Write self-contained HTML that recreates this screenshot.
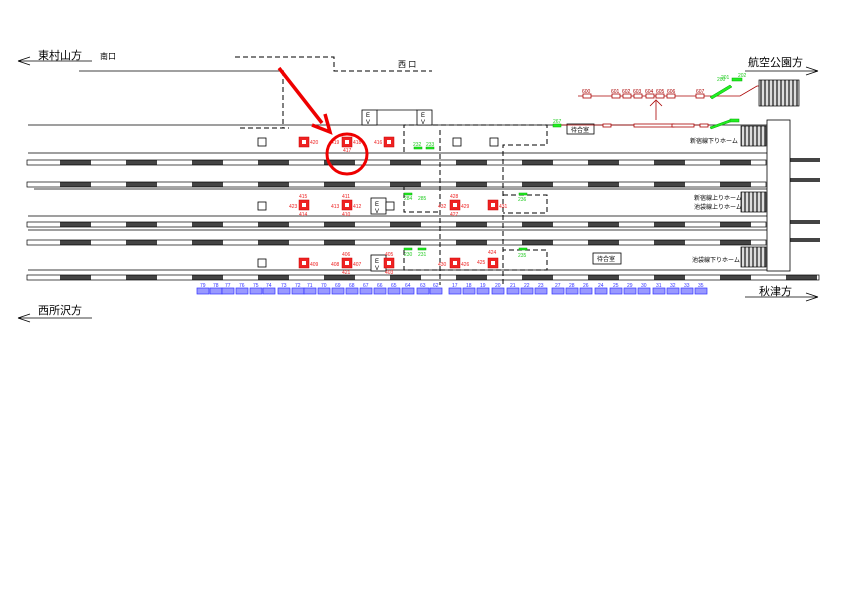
<!DOCTYPE html>
<html><head><meta charset="utf-8"><style>
html,body{margin:0;padding:0;background:#fff;}
svg{display:block;font-family:"Liberation Sans","Noto Sans CJK JP",sans-serif;}
</style></head><body>
<svg width="842" height="595" viewBox="0 0 842 595" xmlns="http://www.w3.org/2000/svg">
<defs>
<pattern id="trk" x="27" y="0" width="66" height="10" patternUnits="userSpaceOnUse">
<rect x="33" y="0" width="31" height="10" fill="#444"/>
</pattern>
<pattern id="stair" x="0" y="0" width="4" height="10" patternUnits="userSpaceOnUse">
<rect x="0" y="0" width="4" height="10" fill="#ddd"/><rect x="0" y="0" width="2" height="10" fill="#666"/>
</pattern>
</defs>
<g font-size="11" fill="#000">
<text x="38" y="59">東村山方</text>
<text x="100" y="59" font-size="8">南口</text>
<text x="398" y="67" font-size="8">西 口</text>
<text x="748" y="66">航空公園方</text>
<text x="759" y="295">秋津方</text>
<text x="38" y="314">西所沢方</text>
</g>
<g stroke="#000" stroke-width="0.8" fill="none">
<path d="M18,61 H92 M18,61 L30,57 M18,61 L30,65"/>
<path d="M745,71 H818 M818,71 L806,67 M818,71 L806,75"/>
<path d="M745,297 H818 M818,297 L806,293 M818,297 L806,301"/>
<path d="M18,318 H92 M18,318 L30,314 M18,318 L30,322"/>
<path d="M79,71 H284"/>
<path d="M28,125 H767 M28,153 H767 M28,216 H767 M28,270 H767 M34,189 H767 M28,230 H767" />
</g>
<g stroke="#000" stroke-width="1" fill="none" stroke-dasharray="5,3">
<path d="M235,57 H334 V71 H432"/>
<path d="M283,71 V128 M240,128 H289"/>
<path d="M404,152 V125 H547 V145 H503 V285"/>
<path d="M440,130 V285"/>
<path d="M404,185 V212 H440 M503,195 H547 V213 H503"/>
<path d="M404,250 V270 H547 V250 H503"/>
</g>
<g stroke="#000" stroke-width="0.8" fill="#fff" font-size="6">
<rect x="362" y="110" width="15" height="15"/><rect x="417" y="110" width="15" height="15"/>
<path d="M377,110 H417" fill="none"/>
<rect x="371" y="198" width="15" height="16"/><rect x="371" y="255" width="15" height="16"/>
<rect x="258" y="138" width="8" height="8"/><rect x="453" y="138" width="8" height="8"/><rect x="490" y="138" width="8" height="8"/>
<rect x="258" y="202" width="8" height="8"/><rect x="386" y="202" width="8" height="8"/><rect x="258" y="259" width="8" height="8"/>
<rect x="567" y="124" width="27" height="10"/><rect x="593" y="253" width="28" height="11"/>
</g>
<g font-size="6" fill="#000">
<text x="366" y="117">E</text><text x="366" y="124">V</text>
<text x="421" y="117">E</text><text x="421" y="124">V</text>
<text x="375" y="206">E</text><text x="375" y="213">V</text>
<text x="375" y="263">E</text><text x="375" y="270">V</text>
<text x="571" y="132">待合室</text><text x="597" y="261">待合室</text>
<text x="690" y="143">新宿線下りホーム</text>
<text x="694" y="200">新宿線上りホーム</text>
<text x="694" y="209">池袋線上りホーム</text>
<text x="692" y="262">池袋線下りホーム</text>
</g>
<g stroke="#000" stroke-width="0.7">
<rect x="27" y="160" width="739" height="5" fill="url(#trk)"/>
<rect x="27" y="182" width="739" height="5" fill="url(#trk)"/>
<rect x="27" y="222" width="739" height="5" fill="url(#trk)"/>
<rect x="27" y="240" width="739" height="5" fill="url(#trk)"/>
<rect x="27" y="275" width="792" height="5" fill="url(#trk)"/>
</g>
<g fill="#444">
<rect x="790" y="158" width="30" height="4"/><rect x="790" y="178" width="30" height="4"/>
<rect x="790" y="220" width="30" height="4"/><rect x="790" y="238" width="30" height="4"/>
</g>
<g stroke="#000" stroke-width="0.8" fill="none">
<rect x="767" y="120" width="23" height="151" fill="#fff"/>
<path d="M710,96 H740 L757,86 H790" stroke="#a00"/>
</g>
<g stroke="#000" stroke-width="0.7">
<rect x="759" y="80" width="40" height="26" fill="url(#stair)"/>
<rect x="741" y="126" width="25" height="20" fill="url(#stair)"/>
<rect x="741" y="192" width="25" height="20" fill="url(#stair)"/>
<rect x="741" y="247" width="25" height="20" fill="url(#stair)"/>
</g>
<g stroke="#a00" stroke-width="0.8" fill="#fff">
<path d="M578,96 H710" fill="none"/>
<path d="M555,125 H710" fill="none"/>
<path d="M656,120 V101 M650,106 L656,100 L662,106" fill="none"/>
<rect x="583" y="94" width="8" height="4"/><rect x="612" y="94" width="8" height="4"/><rect x="623" y="94" width="8" height="4"/><rect x="634" y="94" width="8" height="4"/><rect x="646" y="94" width="8" height="4"/><rect x="656" y="94" width="8" height="4"/><rect x="667" y="94" width="8" height="4"/><rect x="696" y="94" width="8" height="4"/>
<rect x="603" y="124" width="8" height="3"/><rect x="634" y="124" width="40" height="3"/><rect x="672" y="124" width="22" height="3"/><rect x="700" y="124" width="8" height="3"/>
</g>
<g font-size="5" fill="#a00">
<text x="582" y="93">600</text><text x="611" y="93">601</text><text x="622" y="93">602</text><text x="633" y="93">603</text><text x="645" y="93">604</text><text x="656" y="93">605</text><text x="667" y="93">606</text><text x="696" y="93">607</text>
</g>
<g fill="#2e2" stroke="#0a0" stroke-width="0.5">
<rect x="553" y="124" width="8" height="3"/><rect x="732" y="78" width="10" height="3"/>
<path d="M710,97 L730,85 L732,87 L712,99z"/>
<path d="M710,127 L732,119 L733,121 L711,129z"/><rect x="730" y="119" width="9" height="3"/>
<rect x="414" y="147" width="8" height="2"/><rect x="426" y="147" width="8" height="2"/>
<rect x="404" y="193" width="8" height="2"/><rect x="519" y="193" width="8" height="2"/>
<rect x="404" y="248" width="8" height="2"/><rect x="418" y="248" width="8" height="2"/><rect x="519" y="248" width="8" height="2"/>
</g>
<g font-size="5" fill="#2c2">
<text x="553" y="123">267</text><text x="717" y="81">200</text><text x="721" y="79">201</text><text x="738" y="77">202</text>
<text x="413" y="146">232</text><text x="426" y="146">233</text>
<text x="404" y="200">284</text><text x="418" y="200">285</text><text x="518" y="201">236</text>
<text x="404" y="256">230</text><text x="418" y="256">231</text><text x="518" y="257">235</text>
</g>
<g fill="#e22" stroke="#c00" stroke-width="0.5">
<rect x="299" y="137" width="10" height="10"/><rect x="342" y="137" width="10" height="10"/><rect x="384" y="137" width="10" height="10"/>
<rect x="299" y="200" width="10" height="10"/><rect x="342" y="200" width="10" height="10"/><rect x="450" y="200" width="10" height="10"/><rect x="488" y="200" width="10" height="10"/>
<rect x="299" y="258" width="10" height="10"/><rect x="342" y="258" width="10" height="10"/><rect x="384" y="258" width="10" height="10"/><rect x="450" y="258" width="10" height="10"/><rect x="488" y="258" width="10" height="10"/>
</g>
<g fill="#fff" stroke="none">
<rect x="302" y="140" width="4" height="4"/><rect x="345" y="140" width="4" height="4"/><rect x="387" y="140" width="4" height="4"/>
<rect x="302" y="203" width="4" height="4"/><rect x="345" y="203" width="4" height="4"/><rect x="453" y="203" width="4" height="4"/><rect x="491" y="203" width="4" height="4"/>
<rect x="302" y="261" width="4" height="4"/><rect x="345" y="261" width="4" height="4"/><rect x="387" y="261" width="4" height="4"/><rect x="453" y="261" width="4" height="4"/><rect x="491" y="261" width="4" height="4"/>
</g>
<g font-size="5" fill="#e22">
<text x="310" y="144">420</text><text x="331" y="144">419</text><text x="353" y="144">418</text><text x="343" y="152">417</text><text x="374" y="144">416</text>
<text x="299" y="198">415</text><text x="289" y="208">423</text><text x="299" y="216">414</text>
<text x="342" y="198">411</text><text x="331" y="208">413</text><text x="353" y="208">412</text><text x="342" y="216">410</text>
<text x="450" y="198">428</text><text x="438" y="208">432</text><text x="461" y="208">429</text><text x="450" y="216">427</text><text x="499" y="208">431</text>
<text x="310" y="266">409</text>
<text x="342" y="256">406</text><text x="331" y="266">408</text><text x="353" y="266">407</text><text x="342" y="274">421</text>
<text x="385" y="256">405</text><text x="385" y="274">403</text>
<text x="438" y="266">430</text><text x="461" y="266">426</text>
<text x="488" y="254">424</text><text x="477" y="264">425</text>
</g>
<g fill="#99f" stroke="#33f" stroke-width="0.7">
<rect x="197" y="288" width="12" height="6"/><rect x="210" y="288" width="12" height="6"/><rect x="222" y="288" width="12" height="6"/><rect x="236" y="288" width="12" height="6"/><rect x="250" y="288" width="12" height="6"/><rect x="263" y="288" width="12" height="6"/><rect x="278" y="288" width="12" height="6"/><rect x="292" y="288" width="12" height="6"/><rect x="304" y="288" width="12" height="6"/><rect x="318" y="288" width="12" height="6"/><rect x="332" y="288" width="12" height="6"/><rect x="346" y="288" width="12" height="6"/><rect x="360" y="288" width="12" height="6"/><rect x="374" y="288" width="12" height="6"/><rect x="388" y="288" width="12" height="6"/><rect x="402" y="288" width="12" height="6"/><rect x="417" y="288" width="12" height="6"/><rect x="430" y="288" width="12" height="6"/>
<rect x="449" y="288" width="12" height="6"/><rect x="463" y="288" width="12" height="6"/><rect x="477" y="288" width="12" height="6"/><rect x="492" y="288" width="12" height="6"/><rect x="507" y="288" width="12" height="6"/><rect x="521" y="288" width="12" height="6"/><rect x="535" y="288" width="12" height="6"/><rect x="552" y="288" width="12" height="6"/><rect x="566" y="288" width="12" height="6"/><rect x="580" y="288" width="12" height="6"/><rect x="595" y="288" width="12" height="6"/><rect x="610" y="288" width="12" height="6"/><rect x="624" y="288" width="12" height="6"/><rect x="638" y="288" width="12" height="6"/><rect x="653" y="288" width="12" height="6"/><rect x="667" y="288" width="12" height="6"/><rect x="681" y="288" width="12" height="6"/><rect x="695" y="288" width="12" height="6"/>
</g>
<g font-size="5" fill="#33f">
<text x="200" y="287">79</text><text x="213" y="287">78</text><text x="225" y="287">77</text><text x="239" y="287">76</text><text x="253" y="287">75</text><text x="266" y="287">74</text><text x="281" y="287">73</text><text x="295" y="287">72</text><text x="307" y="287">71</text><text x="321" y="287">70</text><text x="335" y="287">69</text><text x="349" y="287">68</text><text x="363" y="287">67</text><text x="377" y="287">66</text><text x="391" y="287">65</text><text x="405" y="287">64</text><text x="420" y="287">63</text><text x="433" y="287">62</text>
<text x="452" y="287">17</text><text x="466" y="287">18</text><text x="480" y="287">19</text><text x="495" y="287">20</text><text x="510" y="287">21</text><text x="524" y="287">22</text><text x="538" y="287">23</text><text x="555" y="287">27</text><text x="569" y="287">28</text><text x="583" y="287">26</text><text x="598" y="287">24</text><text x="613" y="287">25</text><text x="627" y="287">29</text><text x="641" y="287">30</text><text x="656" y="287">31</text><text x="670" y="287">32</text><text x="684" y="287">33</text><text x="698" y="287">35</text>
</g>
<line x1="279" y1="68" x2="322" y2="123" stroke="#e00" stroke-width="3.5"/>
<path d="M312,125 L330,132 L325,114" stroke="#e00" stroke-width="3.5" fill="none"/>
<circle cx="347" cy="154" r="20" fill="none" stroke="#e00" stroke-width="3"/>
</svg>
</body></html>
